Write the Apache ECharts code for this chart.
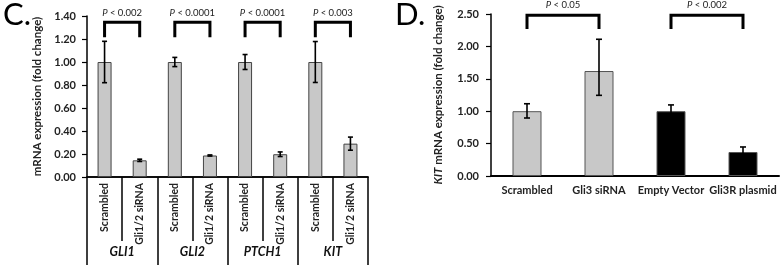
<!DOCTYPE html>
<html>
<head>
<meta charset="utf-8">
<script src="https://cdn.jsdelivr.net/npm/echarts@6/dist/echarts.min.js"></script>
<style>
  html, body { margin: 0; padding: 0; background: #fff; }
  #chart { width: 780px; height: 265px; }
</style>
</head>
<body>
<div id="chart"></div>
<script>
// panel C: mRNA after Gli1/2 knockdown
const cCategories = ['Scrambled', 'Gli1/2 siRNA', 'Scrambled', 'Gli1/2 siRNA', 'Scrambled', 'Gli1/2 siRNA', 'Scrambled', 'Gli1/2 siRNA'];
const cGenes = ['GLI1', 'GLI2', 'PTCH1', 'KIT'];
const cValues = [1.00, 0.145, 1.00, 0.187, 1.00, 0.198, 1.00, 0.29];
const cErrors = [0.18, 0.01, 0.04, 0.005, 0.065, 0.02, 0.178, 0.057];
const cPairs = [[0, 1], [2, 3], [4, 5], [6, 7]];
const cPValues = ['0.002', '0.0001', '0.0001', '0.003'];

// panel D: KIT mRNA
const dCategories = ['Scrambled', 'Gli3 siRNA', 'Empty Vector', 'Gli3R plasmid'];
const dValues = [1.00, 1.62, 1.00, 0.37];
const dErrLow = [0.895, 1.245, 0.90, 0.29];
const dErrHigh = [1.115, 2.11, 1.097, 0.448];
const dPairs = [[0, 1], [2, 3]];
const dPValues = ['0.05', '0.002'];

const FONT = "Lato, 'Noto Sans', sans-serif";
const GRAY = '#c8c8c8';

function errorBar(capW) {
  return function (params, api) {
    const x = api.value(0);
    const top = api.coord([x, api.value(2)]);
    const bot = api.coord([x, api.value(1)]);
    const st = { stroke: '#000', lineWidth: 1.6 };
    return {
      type: 'group',
      children: [
        { type: 'line', shape: { x1: top[0], y1: top[1], x2: bot[0], y2: bot[1] }, style: st },
        { type: 'line', shape: { x1: top[0] - capW, y1: top[1], x2: top[0] + capW, y2: top[1] }, style: st },
        { type: 'line', shape: { x1: bot[0] - capW, y1: bot[1], x2: bot[0] + capW, y2: bot[1] }, style: st }
      ]
    };
  };
}

// bracket with p-value; heights in axis units
function bracket(pvals, topV, legV, textV) {
  return function (params, api) {
    const a = api.coord([api.value(0), topV]);
    const b = api.coord([api.value(1), topV]);
    const leg = api.coord([api.value(0), legV])[1];
    const ty = api.coord([api.value(0), textV])[1];
    return {
      type: 'group',
      children: [
        { type: 'polyline', shape: { points: [[a[0], leg], [a[0], a[1]], [b[0], b[1]], [b[0], leg]] },
          style: { stroke: '#000', lineWidth: 3, fill: null } },
        { type: 'text', x: (a[0] + b[0]) / 2, y: ty,
          style: { text: '{i|P} < ' + pvals[params.dataIndex], fontSize: 9.5, fontFamily: FONT, fill: '#222',
                   align: 'center', verticalAlign: 'middle',
                   rich: { i: { fontStyle: 'italic', fontSize: 9.5, fontFamily: FONT, fill: '#222' } } } }
      ]
    };
  };
}

const chart = echarts.init(document.getElementById('chart'));

const yLabel = { fontFamily: FONT, fontSize: 11, fontWeight: 'bold', color: '#222', formatter: v => v.toFixed(2) };
const blackLine = { show: true, lineStyle: { color: '#000', width: 1.5 } };

chart.setOption({
  animation: false,
  title: [
    { text: 'C.', left: -2, top: -6, textStyle: { fontFamily: FONT, fontSize: 31, fontWeight: 'normal', color: '#000' } },
    { text: 'D.', left: 390, top: -6, textStyle: { fontFamily: FONT, fontSize: 31, fontWeight: 'normal', color: '#000' } }
  ],
  grid: [
    { left: 87, top: 16, width: 281, height: 161 },
    { left: 491, top: 14, width: 288, height: 162 }
  ],
  xAxis: [
    {
      type: 'category', gridIndex: 0, data: cCategories,
      axisLine: blackLine,
      axisTick: { show: true, interval: 0, length: 64, lineStyle: { color: '#000', width: 1.5 } },
      axisLabel: { interval: 0, rotate: 90, margin: 6, fontFamily: FONT, fontSize: 10.5, fontWeight: 'bold', color: '#222' }
    },
    {
      type: 'category', gridIndex: 0, data: cGenes, position: 'bottom',
      axisLine: blackLine,
      axisTick: { show: true, interval: 0, length: 92, lineStyle: { color: '#000', width: 1.5 } },
      axisLabel: { interval: 0, margin: 68, fontFamily: FONT, fontSize: 12.5, fontWeight: 'bold', fontStyle: 'italic', color: '#111' }
    },
    {
      type: 'category', gridIndex: 1, data: dCategories,
      axisLine: { show: true, lineStyle: { color: '#000', width: 2 } },
      axisTick: { show: false },
      axisLabel: { interval: 0, margin: 9, fontFamily: FONT, fontSize: 11, fontWeight: 'bold', color: '#222' }
    }
  ],
  yAxis: [
    {
      type: 'value', gridIndex: 0, min: 0, max: 1.4, interval: 0.2,
      name: 'mRNA expression (fold change)', nameLocation: 'middle', nameGap: 44, nameRotate: 90,
      nameTextStyle: { fontFamily: FONT, fontSize: 11.5, fontWeight: 'bold', color: '#222' },
      axisLine: blackLine,
      axisTick: { show: true, length: 5, lineStyle: { color: '#000', width: 1.2 } },
      axisLabel: Object.assign({ margin: 11 }, yLabel),
      splitLine: { show: false }
    },
    {
      type: 'value', gridIndex: 1, min: 0, max: 2.5, interval: 0.5,
      name: '{i|KIT} mRNA expression (fold change)', nameLocation: 'middle', nameGap: 47, nameRotate: 90,
      nameTextStyle: { fontFamily: FONT, fontSize: 11.5, fontWeight: 'bold', color: '#222',
                       rich: { i: { fontStyle: 'italic', fontFamily: FONT, fontSize: 11.5, fontWeight: 'bold', color: '#222' } } },
      axisLine: blackLine,
      axisTick: { show: true, length: 5, lineStyle: { color: '#000', width: 1.2 } },
      axisLabel: Object.assign({ margin: 12 }, yLabel),
      splitLine: { show: false }
    }
  ],
  series: [
    {
      type: 'bar', xAxisIndex: 0, yAxisIndex: 0, barWidth: 14, data: cValues,
      itemStyle: { color: GRAY, borderColor: '#444', borderWidth: 1 }
    },
    {
      type: 'custom', xAxisIndex: 0, yAxisIndex: 0, z: 5,
      renderItem: errorBar(2.5),
      data: cValues.map((v, i) => [i, v - cErrors[i], v + cErrors[i]])
    },
    {
      type: 'custom', xAxisIndex: 0, yAxisIndex: 0, clip: false, z: 5,
      encode: { x: [0, 1], y: 2 },
      renderItem: bracket(cPValues, 1.345, 1.215, 1.428),
      data: cPairs.map(p => [p[0], p[1], 1.345])
    },
    {
      type: 'bar', xAxisIndex: 2, yAxisIndex: 1, barWidth: 29, data: dValues,
      itemStyle: {
        color: p => (p.dataIndex < 2 ? GRAY : '#000'),
        borderColor: '#555', borderWidth: 1
      }
    },
    {
      type: 'custom', xAxisIndex: 2, yAxisIndex: 1, z: 5,
      renderItem: errorBar(3),
      data: dValues.map((v, i) => [i, dErrLow[i], dErrHigh[i]])
    },
    {
      type: 'custom', xAxisIndex: 2, yAxisIndex: 1, clip: false, z: 5,
      encode: { x: [0, 1], y: 2 },
      renderItem: bracket(dPValues, 2.48, 2.27, 2.64),
      data: dPairs.map(p => [p[0], p[1], 2.48])
    }
  ]
});
</script>
</body>
</html>
